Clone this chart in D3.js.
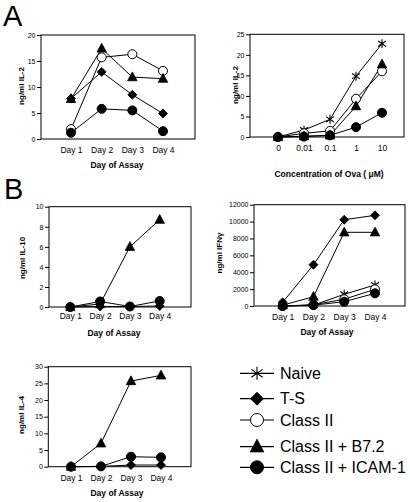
<!DOCTYPE html>
<html><head><meta charset="utf-8">
<script src="https://cdn.jsdelivr.net/npm/d3@7"></script>
<style>
html,body{margin:0;padding:0;background:#fff;}
svg{display:block;font-family:Arial,"Liberation Sans",Helvetica,sans-serif;}
</style></head>
<body>
<svg id="chart" width="410" height="502"></svg>
<script>
// ---------- DATA ----------
const days = ["Day 1", "Day 2", "Day 3", "Day 4"];
const ovaConc = ["0", "0.01", "0.1", "1", "10"];
const seriesNames = ["Naive", "T-S", "Class II", "Class II + B7.2", "Class II + ICAM-1"];
const seriesMarkers = ["asterisk", "diamond", "open", "triangle", "filled"];

// Panel A (left): IL-2 by day
const il2Day_TS      = [7.8, 12.9, 8.5, 4.9];
const il2Day_ClassII = [1.9, 15.7, 16.3, 13.1];
const il2Day_B72     = [7.7, 17.4, 11.9, 11.6];
const il2Day_ICAM    = [1.2, 5.8, 5.5, 1.5];
const il2DayTicks    = [0, 5, 10, 15, 20];

// Panel A (right): IL-2 by concentration of Ova
const il2Ova_Naive   = [0, 1.7, 4.3, 14.8, 22.7];
const il2Ova_ClassII = [0, 0.9, 1.5, 9.3, 16.0];
const il2Ova_B72     = [0, 0.2, 0.4, 7.5, 17.7];
const il2Ova_ICAM    = [0, 0.1, 0.4, 2.4, 5.9];
const il2OvaTicks    = [0, 5, 10, 15, 20, 25];

// Panel B: IL-10
const il10_TS   = [0, 0.05, 0.05, 0.1];
const il10_B72  = [0, 0.3, 6.0, 8.7];
const il10_ICAM = [0, 0.55, 0.05, 0.6];
const il10Ticks = [0, 2, 4, 6, 8, 10];

// Panel B: IFN-gamma
const ifn_Naive   = [0, 100, 1390, 2490];
const ifn_TS      = [440, 4890, 10220, 10740];
const ifn_ClassII = [0, 150, 800, 1980];
const ifn_B72     = [100, 1100, 8730, 8730];
const ifn_ICAM    = [0, 100, 510, 1500];
const ifnTicks    = [0, 2000, 4000, 6000, 8000, 10000, 12000];

// Panel B: IL-4
const il4_TS   = [0, 0.1, 0.5, 0.5];
const il4_B72  = [0, 7.0, 25.7, 27.4];
const il4_ICAM = [0, 0.1, 3.0, 2.8];
const il4Ticks = [0, 5, 10, 15, 20, 25, 30];

// ---------- DRAWING ----------
const svg = d3.select("#chart");

function markerPath(type, s) {
  if (type === "diamond") return `M0,${-s}L${s},0L0,${s}L${-s},0Z`;
  if (type === "triangle") return `M0,${-s*1.15}L${s*1.05},${s*0.8}L${-s*1.05},${s*0.8}Z`;
  if (type === "asterisk") {
    const a = s * 0.87, b = s * 0.6;
    return `M0,${-s}L0,${s}M${-a},${-b}L${a},${b}M${-a},${b}L${a},${-b}`;
  }
  return null;
}

function drawMarker(g, type, x, y, s) {
  if (type === "open" || type === "filled") {
    g.append("circle").attr("cx", x).attr("cy", y).attr("r", s)
      .attr("fill", type === "open" ? "#fff" : "#000")
      .attr("stroke", "#000").attr("stroke-width", 1);
  } else {
    g.append("path").attr("d", markerPath(type, s))
      .attr("transform", `translate(${x},${y})`)
      .attr("fill", type === "asterisk" ? "none" : "#000")
      .attr("stroke", "#000").attr("stroke-width", type === "asterisk" ? 1.1 : 0.8);
  }
}

function drawPanel(cfg) {
  const g = svg.append("g");
  const x = d3.scaleLinear().domain([0, cfg.cats.length - 1]).range(cfg.xRange);
  const y = d3.scaleLinear().domain([0, cfg.yMax]).range([cfg.y0, cfg.yTop]);

  // frame
  g.append("rect").attr("x", cfg.x0).attr("y", cfg.yTop)
    .attr("width", cfg.x1 - cfg.x0).attr("height", cfg.y0 - cfg.yTop)
    .attr("fill", "none").attr("stroke", "#000").attr("stroke-width", 1);

  // y axis
  const ya = g.append("g").attr("transform", `translate(${cfg.x0},0)`)
    .call(d3.axisLeft(y).tickValues(cfg.ticks).tickSize(4).tickPadding(1.5).tickFormat(d3.format("d")));
  ya.select(".domain").remove();
  ya.selectAll("text").attr("font-size", 7).attr("font-family", "Arial, Liberation Sans, sans-serif").attr("fill", "#000");

  // x category labels
  const xa = g.append("g").attr("transform", `translate(0,${cfg.y0})`)
    .call(d3.axisBottom(x).tickValues(d3.range(cfg.cats.length)).tickSize(0).tickPadding(cfg.labelPad)
      .tickFormat(i => cfg.cats[i]));
  xa.select(".domain").remove();
  xa.selectAll("text").attr("font-size", 8.5).attr("font-family", "Arial, Liberation Sans, sans-serif").attr("fill", "#000");

  // y title
  g.append("text").attr("transform", `translate(${cfg.yLabelX},${cfg.yLabelY}) rotate(-90)`)
    .attr("text-anchor", "middle").attr("font-size", 8).attr("font-weight", "bold")
    .text(cfg.yLabel);

  if (cfg.xTitle) {
    g.append("text").attr("x", cfg.xTitleX).attr("y", cfg.xTitleY)
      .attr("text-anchor", "middle").attr("font-size", 8.5).attr("font-weight", "bold")
      .text(cfg.xTitle);
  }

  const line = d3.line().x((d, i) => x(i)).y(d => y(d));
  cfg.series.forEach(s => {
    g.append("path").datum(s.values).attr("d", line)
      .attr("fill", "none").attr("stroke", "#000").attr("stroke-width", 1);
  });
  cfg.series.forEach(s => {
    s.values.forEach((v, i) => drawMarker(g, s.marker, x(i), y(v), 4.5));
  });
}

const M = seriesMarkers;

drawPanel({
  cats: days, xRange: [71, 163], x0: 41, x1: 195, yTop: 35, y0: 139, yMax: 20,
  ticks: il2DayTicks, labelPad: 8, yLabel: "ng/ml IL-2", yLabelX: 24, yLabelY: 86,
  xTitle: "Day of Assay", xTitleX: 117, xTitleY: 168,
  series: [
    { marker: M[1], values: il2Day_TS },
    { marker: M[2], values: il2Day_ClassII },
    { marker: M[3], values: il2Day_B72 },
    { marker: M[4], values: il2Day_ICAM }
  ]
});

drawPanel({
  cats: ovaConc, xRange: [278, 382], x0: 250, x1: 404, yTop: 34.3, y0: 137, yMax: 25,
  ticks: il2OvaTicks, labelPad: 8, yLabel: "ng/ml IL-2", yLabelX: 238, yLabelY: 85,
  xTitle: "Concentration of Ova ( \u03BCM)", xTitleX: 329, xTitleY: 177,
  series: [
    { marker: M[0], values: il2Ova_Naive },
    { marker: M[2], values: il2Ova_ClassII },
    { marker: M[3], values: il2Ova_B72 },
    { marker: M[4], values: il2Ova_ICAM }
  ]
});

drawPanel({
  cats: days, xRange: [70.3, 159.7], x0: 49, x1: 191, yTop: 206.7, y0: 307, yMax: 10,
  ticks: il10Ticks, labelPad: 6, yLabel: "ng/ml IL-10", yLabelX: 25, yLabelY: 258,
  xTitle: "Day of Assay", xTitleX: 114, xTitleY: 336,
  series: [
    { marker: M[1], values: il10_TS },
    { marker: M[3], values: il10_B72 },
    { marker: M[4], values: il10_ICAM }
  ]
});

drawPanel({
  cats: days, xRange: [282.7, 375], x0: 254, x1: 405, yTop: 204.7, y0: 306, yMax: 12000,
  ticks: ifnTicks, labelPad: 8, yLabel: "ng/ml IFN\u03B3", yLabelX: 222, yLabelY: 253,
  xTitle: "Day of Assay", xTitleX: 327, xTitleY: 335,
  series: [
    { marker: M[0], values: ifn_Naive },
    { marker: M[1], values: ifn_TS },
    { marker: M[2], values: ifn_ClassII },
    { marker: M[3], values: ifn_B72 },
    { marker: M[4], values: ifn_ICAM }
  ]
});

drawPanel({
  cats: days, xRange: [71, 161], x0: 48.3, x1: 191, yTop: 366.7, y0: 466.7, yMax: 30,
  ticks: il4Ticks, labelPad: 8, yLabel: "ng/ml IL-4", yLabelX: 24, yLabelY: 415,
  xTitle: "Day of Assay", xTitleX: 117, xTitleY: 496,
  series: [
    { marker: M[1], values: il4_TS },
    { marker: M[3], values: il4_B72 },
    { marker: M[4], values: il4_ICAM }
  ]
});

// panel letters
svg.append("text").attr("x", 3).attr("y", 26).attr("font-size", 29).text("A");
svg.append("text").attr("x", 4).attr("y", 199).attr("font-size", 29).text("B");

// legend
const legendY = [373.3, 398.7, 420, 446.7, 467.3];
const lg = svg.append("g");
seriesNames.forEach((name, i) => {
  const yy = legendY[i];
  lg.append("line").attr("x1", 240).attr("x2", 274).attr("y1", yy).attr("y2", yy)
    .attr("stroke", "#000").attr("stroke-width", 1.2);
  drawMarker(lg, seriesMarkers[i], 257, yy, 6.5);
  lg.append("text").attr("x", 280).attr("y", yy).attr("dy", "0.36em")
    .attr("font-size", 16).text(name);
});
</script>
</body></html>
